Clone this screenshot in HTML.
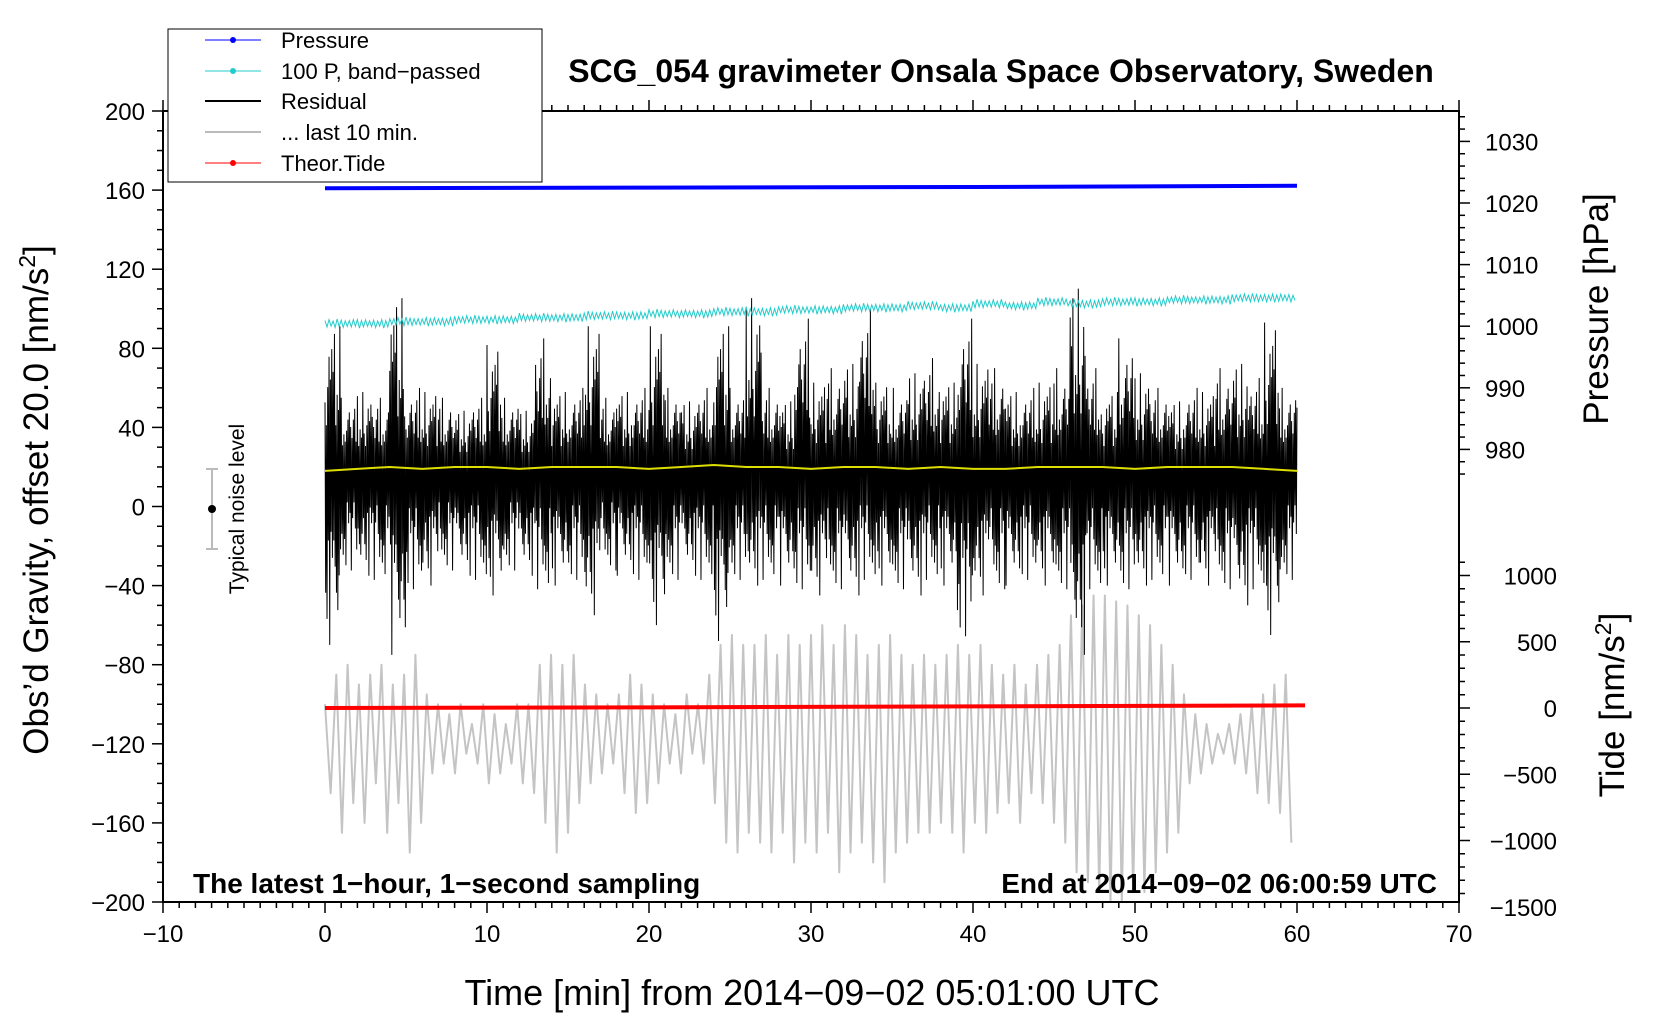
<!DOCTYPE html>
<html><head><meta charset="utf-8"><style>
body{margin:0;background:#fff}
svg{display:block;font-family:"Liberation Sans",Arial,sans-serif}
</style></head><body>
<svg id="c" width="1660" height="1020" viewBox="0 0 1660 1020">
<g id="series"></g>
<g id="axes"></g>
<text x="1001" y="82" font-size="32" font-weight="bold" text-anchor="middle">SCG_054 gravimeter Onsala Space Observatory, Sweden</text>
<text x="193" y="893" font-size="28" font-weight="bold">The latest 1−hour, 1−second sampling</text>
<text x="1437" y="893" font-size="28" font-weight="bold" text-anchor="end">End at 2014−09−02 06:00:59 UTC</text>
<text x="812" y="1005" font-size="36" text-anchor="middle">Time [min] from 2014−09−02 05:01:00 UTC</text>
<text transform="translate(48,500) rotate(-90)" font-size="35" text-anchor="middle">Obs’d Gravity, offset 20.0 [nm/s<tspan font-size="23" dy="-13">2</tspan><tspan dy="13">]</tspan></text>
<text transform="translate(1608,309) rotate(-90)" font-size="35" text-anchor="middle">Pressure [hPa]</text>
<text transform="translate(1624,705) rotate(-90)" font-size="35" text-anchor="middle">Tide [nm/s<tspan font-size="23" dy="-13">2</tspan><tspan dy="13">]</tspan></text>
<g>
<line x1="212" y1="469" x2="212" y2="549" stroke="#bbb" stroke-width="2"/>
<line x1="206" y1="469" x2="218" y2="469" stroke="#bbb" stroke-width="2"/>
<line x1="206" y1="549" x2="218" y2="549" stroke="#bbb" stroke-width="2"/>
<circle cx="212" cy="509" r="4" fill="#000"/>
<text transform="translate(244,509) rotate(-90)" font-size="21" text-anchor="middle">Typical noise level</text>
</g>
<g>
<rect x="168" y="29" width="374" height="153" fill="#fff" stroke="#000" stroke-width="1"/>
<g><line x1="205" y1="40" x2="261" y2="40" stroke="#00f"/><circle cx="233" cy="40" r="3" fill="#00f"/><text x="281" y="48" font-size="22">Pressure</text></g>
<g><line x1="205" y1="71" x2="261" y2="71" stroke="#2cc"/><circle cx="233" cy="71" r="3" fill="#2cc"/><text x="281" y="79" font-size="22">100 P, band−passed</text></g>
<g><line x1="205" y1="101" x2="261" y2="101" stroke="#000" stroke-width="2"/><text x="281" y="109" font-size="22">Residual</text></g>
<g><line x1="205" y1="132" x2="261" y2="132" stroke="#bbb" stroke-width="2"/><text x="281" y="140" font-size="22">... last 10 min.</text></g>
<g><line x1="205" y1="163" x2="261" y2="163" stroke="#f00"/><circle cx="233" cy="163" r="3" fill="#f00"/><text x="281" y="171" font-size="22">Theor.Tide</text></g>
</g>
</svg>
<script>
// data
const resHi=[95,55,60,55,110,60,60,55,50,55,85,55,50,85,60,60,95,55,60,60,95,60,55,60,95,60,110,60,55,95,65,70,75,100,65,60,70,75,65,95,75,70,60,60,65,70,115,70,60,85,70,60,55,60,60,70,75,65,97,60,50];
const resLo=[-70,-35,-35,-40,-75,-45,-40,-35,-35,-40,-45,-35,-35,-45,-40,-40,-55,-35,-35,-40,-60,-40,-35,-40,-68,-40,-40,-40,-40,-45,-45,-45,-45,-40,-40,-45,-45,-40,-40,-70,-45,-45,-40,-40,-40,-45,-75,-45,-40,-45,-40,-40,-40,-40,-40,-45,-50,-45,-65,-40,-25];
const cyanLevel=[92,93,93,94,94,95,95,96,96,97,97,98,98,99,99,100,100,101,101,101,102,102,103,103,103,104,104,105,105,106,107];
const pressTimes=[0,20,40,60];
const pressVals=[1022.4,1022.5,1022.6,1022.8];
const tideTimes=[0,20,40,60.5];
const tideVals=[0,5,12,20];
const yellowVals=[18,19,20,19,20,20,19,20,20,20,19,20,21,20,20,19,20,20,19,20,19,19,20,20,20,19,20,20,20,19,18];
const grayPeaks=[-100,-85,-80,-90,-85,-80,-90,-85,-75,-95,-100,-105,-100,-110,-100,-105,-110,-100,-100,-80,-75,-80,-75,-90,-95,-100,-95,-85,-90,-95,-100,-105,-95,-100,-85,-70,-65,-70,-70,-65,-75,-65,-70,-65,-60,-70,-60,-65,-75,-70,-65,-75,-80,-75,-80,-75,-70,-75,-70,-80,-85,-80,-90,-80,-75,-70,-55,-50,-45,-45,-48,-50,-55,-60,-70,-80,-95,-105,-110,-115,-110,-105,-100,-95,-90,-85];
const grayTroughs=[-145,-165,-150,-160,-140,-165,-150,-175,-160,-135,-130,-135,-125,-130,-140,-135,-130,-140,-145,-160,-175,-165,-150,-140,-135,-130,-145,-155,-150,-140,-130,-135,-125,-130,-150,-170,-175,-165,-170,-175,-165,-180,-170,-175,-165,-185,-175,-170,-180,-190,-175,-170,-165,-165,-160,-165,-175,-160,-165,-155,-150,-160,-145,-150,-160,-170,-185,-190,-195,-200,-200,-195,-195,-185,-175,-165,-140,-135,-130,-125,-130,-135,-145,-150,-155,-170];
const xTicks=[-10,0,10,20,30,40,50,60,70];
const yTicks=[-200,-160,-120,-80,-40,0,40,80,120,160,200];
const pTicks=[980,990,1000,1010,1020,1030];
const tTicks=[-1500,-1000,-500,0,500,1000];

const L=163,R=1459,T=111,B=902;
const sx=t=>L+(t+10)*(R-L)/80;
const gy=v=>T+(200-v)*(B-T)/400;
const py=p=>203-(p-1020)*6.16;
const ty=v=>708-v*0.1325;
const NS='http://www.w3.org/2000/svg';
const S=document.getElementById('series'),A=document.getElementById('axes');
function mk(tag,attrs,parent){const e=document.createElementNS(NS,tag);for(const k in attrs)e.setAttribute(k,attrs[k]);parent.appendChild(e);return e;}

// gray last 10 min
const sp=60/grayPeaks.length;let gp=[];
for(let i=0;i<grayPeaks.length;i++){gp.push(sx(i*sp)+','+gy(grayPeaks[i]));gp.push(sx(i*sp+sp/2)+','+gy(grayTroughs[i]));}
let g=mk('polyline',{points:gp.join(' '),fill:'none',stroke:'#c4c4c4','stroke-width':2,'stroke-linejoin':'round'},S);



// residual
const mid=18,pat=[0.45,0.7,0.3,0.85,0.55,0.4,0.75,1,0.6,0.35,0.8,0.5,0.65,0.4,0.9,0.55,0.3,0.7,0.5,0.8,0.4,0.6,0.95,0.45];
let rp=[];
for(let i=0;i<resHi.length-1;i++){
  for(let k=0;k<24;k++){const t=i+k/24;const f=pat[(k+i*7)%24];const v=k%2==0?mid+(resHi[i]-mid)*f:mid+(resLo[i]-mid)*f;rp.push(sx(t)+','+gy(v));}
}
rp.push(sx(60)+','+gy(resHi[60]));
let r=mk('polyline',{points:rp.join(' '),fill:'none',stroke:'#000','stroke-width':1},S);



// yellow
let yp=yellowVals.map((v,i)=>sx(i*2)+','+gy(v));
let y=mk('polyline',{points:yp.join(' '),fill:'none',stroke:'#dd0','stroke-width':2},S);



// cyan
const cw=[2,1.2,2.5,0.8,1.8,1.5,2.8,1,2.2,1.4,1.9,0.9];
let cp=[];
for(let i=0;i<cyanLevel.length-1;i++){for(let k=0;k<16;k++){const t=i*2+k/8;const a=cw[(k+i*5)%12];cp.push(sx(t)+','+gy(cyanLevel[i]+(k%2?-a:a)));}}
let c=mk('polyline',{points:cp.join(' '),fill:'none',stroke:'#2cc','stroke-width':1},S);



// pressure
let pp=pressTimes.map((t,i)=>sx(t)+','+py(pressVals[i]));
let p=mk('polyline',{points:pp.join(' '),fill:'none',stroke:'#00f','stroke-width':4},S);



// tide
let tp=tideTimes.map((t,i)=>sx(t)+','+ty(tideVals[i]));
let td=mk('polyline',{points:tp.join(' '),fill:'none',stroke:'#f00','stroke-width':4},S);



// frame
let f=mk('rect',{x:L,y:T,width:R-L,height:B-T,fill:'none',stroke:'#000','stroke-width':2},A);


for(let t=-10;t<=70;t++){const big=t%10==0;mk('line',{x1:sx(t),x2:sx(t),y1:B,y2:B+(big?11:6),stroke:'#000','stroke-width':1.5},A);mk('line',{x1:sx(t),x2:sx(t),y1:T,y2:T-(big?11:6),stroke:'#000','stroke-width':1.5},A);}
xTicks.forEach(t=>{const e=mk('text',{x:sx(t),y:B+40,'font-size':24,'text-anchor':'middle'},A);e.textContent=String(t).replace('-','−');

});
for(let v=-200;v<=200;v+=10){const big=v%40==0;mk('line',{x1:L,x2:L-(big?11:6),y1:gy(v),y2:gy(v),stroke:'#000','stroke-width':1.5},A);}
yTicks.forEach(v=>{const e=mk('text',{x:L-18,y:gy(v)+9,'font-size':24,'text-anchor':'end'},A);e.textContent=String(v).replace('-','−');

});
for(let q=976;q<=1034;q+=2){const big=q%10==0;if(py(q)<T)continue;mk('line',{x1:R,x2:R+(big?11:6),y1:py(q),y2:py(q),stroke:'#000','stroke-width':1.5},A);}
pTicks.forEach(q=>{const e=mk('text',{x:R+26,y:py(q)+9,'font-size':24},A);e.textContent=q;

});
for(let v=-1500;v<=1100;v+=100){const big=v%500==0;if(ty(v)>B)continue;mk('line',{x1:R,x2:R+(big?11:6),y1:ty(v),y2:ty(v),stroke:'#000','stroke-width':1.5},A);}
tTicks.forEach(v=>{const e=mk('text',{x:R+98,y:ty(v)+9,'font-size':24,'text-anchor':'end'},A);e.textContent=String(v).replace('-','−');

});
</script>
</body></html>
